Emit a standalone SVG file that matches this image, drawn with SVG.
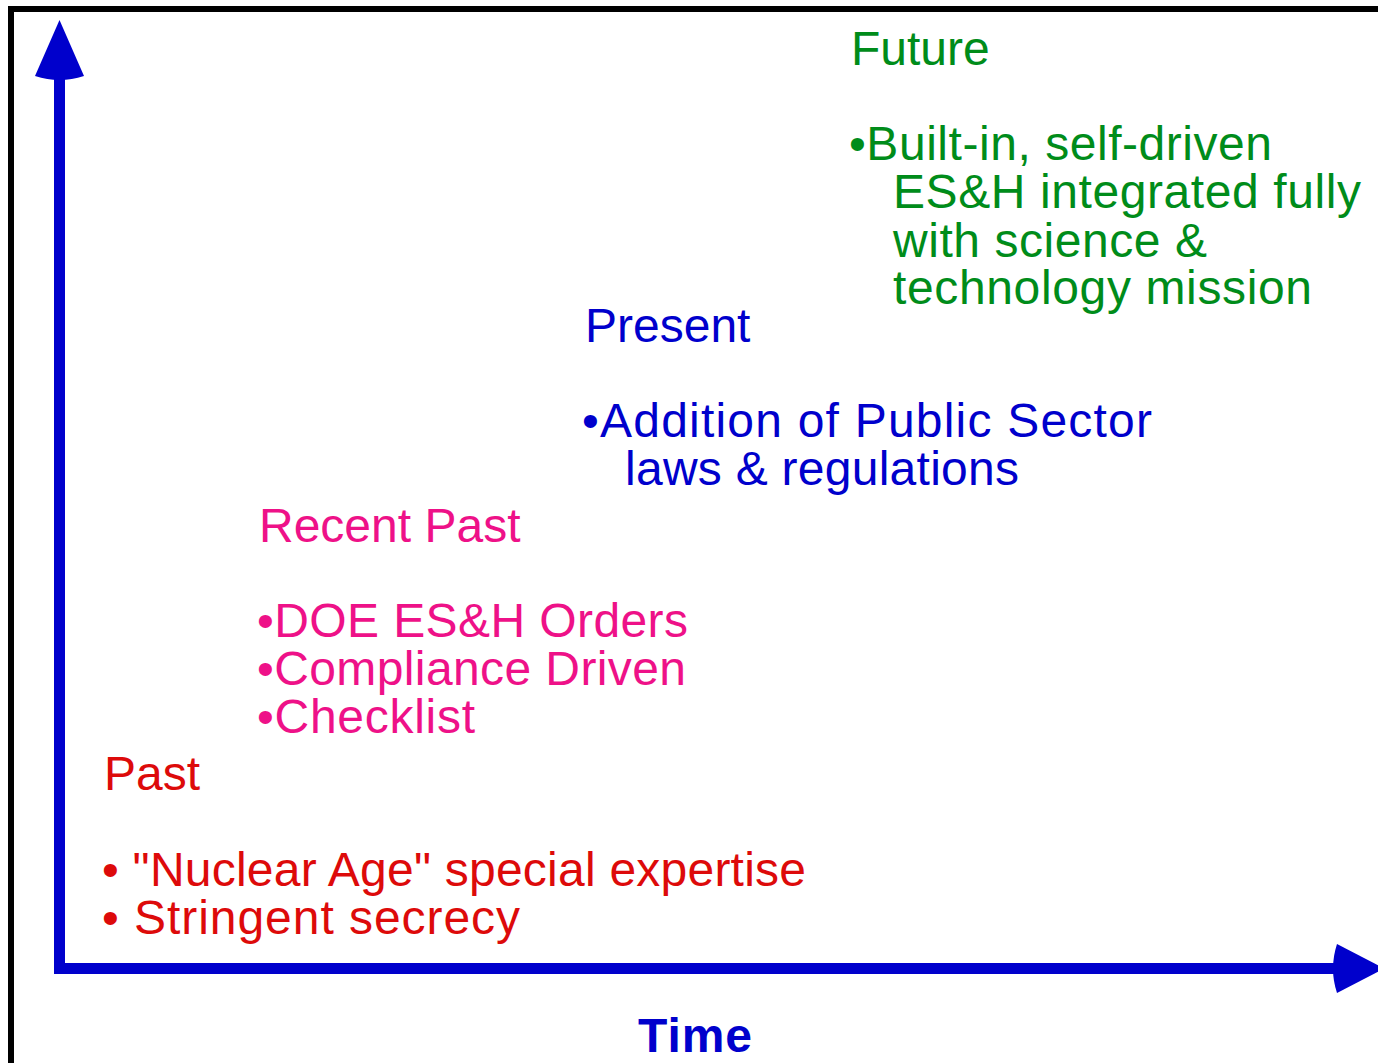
<svg xmlns="http://www.w3.org/2000/svg" width="1378" height="1063" viewBox="0 0 1378 1063">
<style>
text{font-family:"Liberation Sans",Arial,sans-serif;font-size:48px}
.g{fill:#008c1a}.b{fill:#0000cc}.p{fill:#ee1188}.r{fill:#dd0a0a}
.axis{stroke:#0000cc;stroke-width:11;fill:none}
.head{fill:#0000cc}
.frame{stroke:#000;stroke-width:6;fill:none}
</style>
<rect width="1378" height="1063" fill="#fff"/>
<path class="frame" d="M11,1063 V9 H1378"/>
<g id="connectors">
<line class="axis" x1="59.5" y1="74" x2="59.5" y2="968"/>
<line class="axis" x1="54" y1="968.5" x2="1340" y2="968.5"/>
<path class="head" d="M59.5,20 L84,76 Q59.5,84 35,76 Z"/>
<path class="head" d="M1384,968.5 L1337,993 Q1329,968.5 1337,944 Z"/>
</g>
<g id="future" class="g">
<text x="851" y="65">Future</text>
<text x="849" y="160" textLength="423" lengthAdjust="spacing">•Built-in, self-driven</text>
<text x="893" y="208" textLength="468" lengthAdjust="spacing">ES&amp;H integrated fully</text>
<text x="893" y="257" textLength="314" lengthAdjust="spacing">with science &amp;</text>
<text x="893" y="304" textLength="419" lengthAdjust="spacing">technology mission</text>
</g>
<g id="present" class="b">
<text x="585" y="342">Present</text>
<text x="582" y="437" textLength="570" lengthAdjust="spacing">•Addition of Public Sector</text>
<text x="625" y="485" textLength="394" lengthAdjust="spacing">laws &amp; regulations</text>
</g>
<g id="recent-past" class="p">
<text x="259" y="542">Recent Past</text>
<text x="257" y="637" textLength="431" lengthAdjust="spacing">•DOE ES&amp;H Orders</text>
<text x="257" y="685" textLength="429" lengthAdjust="spacing">•Compliance Driven</text>
<text x="257" y="733" textLength="218" lengthAdjust="spacing">•Checklist</text>
</g>
<g id="past" class="r">
<text x="104" y="790">Past</text>
<text x="102" y="886" textLength="704" lengthAdjust="spacing">• "Nuclear Age" special expertise</text>
<text x="102" y="934" textLength="418" lengthAdjust="spacing">• Stringent secrecy</text>
</g>
<g id="time-label">
<text x="638" y="1052" class="b" font-weight="bold" textLength="114" lengthAdjust="spacing">Time</text>
</g>
</svg>
